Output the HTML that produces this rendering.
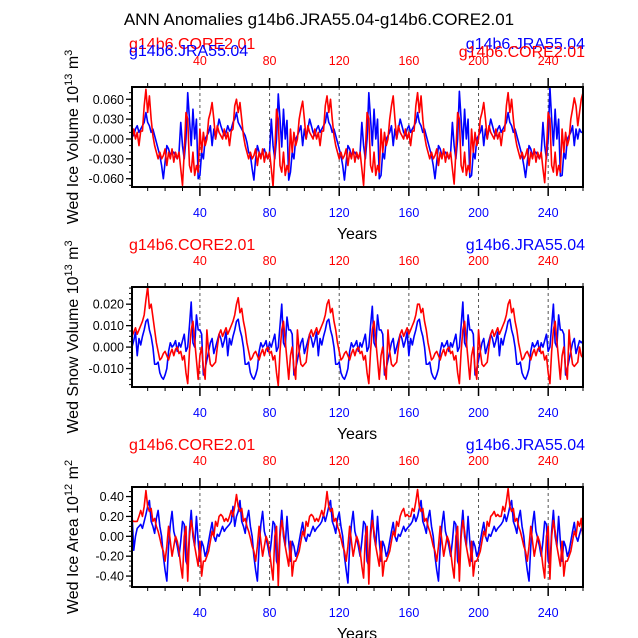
<!DOCTYPE html>
<html><head><meta charset="utf-8"><style>
body{margin:0;background:#fff;}
svg{display:block;font-family:"Liberation Sans",sans-serif;}
</style></head><body>
<svg id="c" width="638" height="638" viewBox="0 0 638 638">
<text x="319" y="25" text-anchor="middle" font-size="17">ANN Anomalies g14b6.JRA55.04-g14b6.CORE2.01</text>
</svg>
<script>
const years = [];
for (let i = 1; i <= 260; i++) years.push(i);
const iceVolJRA = [
0.01,0.005,0.015,0.02,0.01,0.015,0.02,0.025,0.04,0.025,0.02,0.01,0.015,0.005,-0.005,-0.015,-0.025,-0.04,-0.06,-0.035,-0.01,-0.015,-0.025,-0.02,-0.02,-0.025,-0.03,-0.02,0.025,-0.01,-0.03,0.0,0.07,0.03,-0.01,0.045,0.0,0.03,-0.06,-0.055,-0.02,-0.03,0.0,0.005,0.01,0.02,-0.01,0.015,0.0,0.015,0.03,0.02,
0.012,0.005,0.01,0.02,0.012,0.015,0.025,0.03,0.04,0.025,0.02,0.015,0.01,0.005,-0.005,-0.02,-0.025,-0.045,-0.062,-0.03,-0.01,-0.02,-0.025,-0.02,-0.015,-0.025,-0.03,-0.02,0.03,-0.01,-0.03,0.0,0.068,0.03,-0.012,0.045,0.0,0.028,-0.062,-0.05,-0.02,-0.03,0.0,0.005,0.012,0.02,-0.01,0.015,0.0,0.015,0.03,0.02,
0.01,0.005,0.015,0.02,0.01,0.015,0.02,0.025,0.04,0.025,0.02,0.01,0.015,0.005,-0.005,-0.015,-0.025,-0.04,-0.062,-0.035,-0.01,-0.015,-0.025,-0.02,-0.02,-0.025,-0.03,-0.02,0.025,-0.01,-0.03,0.0,0.07,0.03,-0.01,0.045,0.0,0.03,-0.06,-0.055,-0.02,-0.03,0.0,0.005,0.01,0.02,-0.01,0.015,0.0,0.015,0.03,0.02,
0.01,0.005,0.015,0.02,0.01,0.015,0.02,0.025,0.04,0.025,0.02,0.01,0.015,0.005,-0.005,-0.015,-0.025,-0.04,-0.06,-0.035,-0.01,-0.015,-0.025,-0.02,-0.02,-0.025,-0.03,-0.02,0.025,-0.01,-0.03,0.0,0.072,0.03,-0.01,0.045,0.0,0.03,-0.058,-0.055,-0.02,-0.03,0.0,0.005,0.01,0.02,-0.01,0.015,0.0,0.015,0.03,0.02,
0.01,0.005,0.015,0.02,0.01,0.015,0.02,0.025,0.04,0.025,0.02,0.01,0.015,0.005,-0.005,-0.015,-0.025,-0.04,-0.058,-0.035,-0.01,-0.015,-0.025,-0.02,-0.02,-0.025,-0.03,-0.02,0.025,-0.01,-0.03,0.0,0.078,0.03,-0.01,0.045,0.0,0.03,-0.056,-0.055,-0.02,-0.03,0.0,0.005,0.01,0.02,-0.01,0.015,0.0,0.015,0.01,0.01];
const iceVolCORE = [
0.0,0.015,0.0,0.01,-0.01,0.012,0.012,0.05,0.075,0.04,0.065,0.03,0.005,-0.01,-0.02,-0.03,-0.02,-0.03,-0.025,-0.015,-0.04,-0.02,-0.03,-0.015,-0.035,-0.02,-0.03,-0.02,-0.045,-0.07,-0.02,0.04,0.03,-0.04,-0.05,-0.02,-0.055,-0.04,-0.05,0.015,-0.02,0.01,-0.01,0.0,0.03,0.04,0.055,0.03,0.0,0.02,0.01,0.005,
0.0,0.015,0.0,0.01,-0.01,0.012,0.015,0.05,0.06,0.04,0.055,0.03,0.005,-0.01,-0.02,-0.03,-0.02,-0.03,-0.025,-0.015,-0.04,-0.02,-0.03,-0.015,-0.035,-0.02,-0.03,-0.02,-0.045,-0.072,-0.02,0.045,0.03,-0.04,-0.05,-0.02,-0.055,-0.04,-0.05,0.015,-0.02,0.01,-0.01,0.0,0.03,0.045,0.057,0.03,0.0,0.02,0.01,0.005,
0.0,0.015,0.0,0.01,-0.01,0.012,0.012,0.05,0.065,0.04,0.06,0.03,0.005,-0.01,-0.02,-0.03,-0.02,-0.03,-0.025,-0.015,-0.04,-0.02,-0.03,-0.015,-0.035,-0.02,-0.03,-0.02,-0.045,-0.07,-0.02,0.04,0.03,-0.04,-0.05,-0.02,-0.055,-0.04,-0.05,0.015,-0.02,0.01,-0.01,0.0,0.03,0.05,0.065,0.03,0.0,0.02,0.01,0.005,
0.0,0.015,0.0,0.01,-0.01,0.012,0.012,0.05,0.07,0.04,0.065,0.03,0.005,-0.01,-0.02,-0.03,-0.02,-0.03,-0.025,-0.015,-0.04,-0.02,-0.03,-0.015,-0.035,-0.02,-0.03,-0.02,-0.045,-0.068,-0.02,0.04,0.03,-0.04,-0.05,-0.02,-0.055,-0.04,-0.05,0.015,-0.02,0.01,-0.01,0.0,0.03,0.04,0.055,0.03,0.0,0.02,0.01,0.005,
0.0,0.015,0.0,0.01,-0.01,0.012,0.012,0.05,0.07,0.04,0.06,0.03,0.005,-0.01,-0.02,-0.03,-0.02,-0.03,-0.025,-0.015,-0.04,-0.02,-0.03,-0.015,-0.035,-0.02,-0.03,-0.02,-0.045,-0.066,-0.02,0.04,0.03,-0.04,-0.05,-0.02,-0.055,-0.04,-0.05,0.015,-0.02,0.01,-0.01,0.0,0.03,0.045,0.062,0.05,0.02,0.04,0.06,0.07];
const snowVolJRA = [
0.0,0.003,0.007,-0.004,0.004,0.001,0.005,0.008,0.012,0.013,0.008,0.005,0.0,-0.008,-0.008,-0.007,-0.012,-0.014,-0.015,-0.013,-0.01,-0.002,0.002,0.0,0.001,0.003,-0.002,0.002,0.0,0.003,0.006,-0.002,0.0,0.01,0.021,0.002,0.0,0.015,0.008,0.008,0.006,-0.013,-0.01,-0.006,-0.002,0.002,0.004,-0.003,0.0,0.003,0.006,0.004,
0.0,0.003,0.007,-0.004,0.004,0.001,0.005,0.008,0.012,0.013,0.008,0.005,0.0,-0.008,-0.008,-0.007,-0.012,-0.014,-0.015,-0.013,-0.01,-0.002,0.002,0.0,0.001,0.003,-0.002,0.002,0.0,0.003,0.006,-0.002,0.0,0.01,0.02,0.002,0.0,0.014,0.008,0.008,0.006,-0.013,-0.01,-0.006,-0.002,0.002,0.004,-0.003,0.0,0.003,0.006,0.004,
0.0,0.003,0.007,-0.004,0.004,0.001,0.005,0.008,0.012,0.013,0.008,0.005,0.0,-0.008,-0.008,-0.007,-0.012,-0.014,-0.015,-0.013,-0.01,-0.002,0.002,0.0,0.001,0.003,-0.002,0.002,0.0,0.003,0.006,-0.002,0.0,0.01,0.019,0.002,0.0,0.015,0.008,0.008,0.006,-0.013,-0.01,-0.006,-0.002,0.002,0.004,-0.003,0.0,0.003,0.006,0.004,
0.0,0.003,0.007,-0.004,0.004,0.001,0.005,0.008,0.012,0.013,0.008,0.005,0.0,-0.008,-0.008,-0.007,-0.012,-0.014,-0.015,-0.013,-0.01,-0.002,0.002,0.0,0.001,0.003,-0.002,0.002,0.0,0.003,0.006,-0.002,0.0,0.01,0.021,0.002,0.0,0.015,0.008,0.008,0.006,-0.013,-0.01,-0.006,-0.002,0.002,0.004,-0.003,0.0,0.003,0.006,0.004,
0.0,0.003,0.007,-0.004,0.004,0.001,0.005,0.008,0.012,0.013,0.008,0.005,0.0,-0.008,-0.008,-0.007,-0.012,-0.014,-0.015,-0.013,-0.01,-0.002,0.002,0.0,0.001,0.003,-0.002,0.002,0.0,0.003,0.006,-0.002,0.0,0.01,0.02,0.002,0.0,0.015,0.008,0.008,0.006,-0.013,-0.01,-0.006,-0.002,0.002,0.004,-0.003,0.0,0.003,0.002,0.003];
const snowVolCORE = [
0.005,0.007,0.009,0.006,0.008,0.01,0.012,0.015,0.022,0.028,0.018,0.02,0.014,0.008,0.002,-0.002,-0.006,-0.005,-0.003,-0.002,-0.004,-0.006,-0.003,-0.001,-0.004,-0.001,0.0,-0.003,-0.002,-0.006,-0.004,-0.012,-0.017,-0.002,0.008,0.012,0.003,-0.006,-0.015,-0.004,0.0,-0.01,-0.015,0.008,-0.002,-0.008,-0.009,-0.008,-0.007,0.0,0.006,0.008,
0.005,0.007,0.009,0.006,0.008,0.01,0.012,0.015,0.02,0.023,0.016,0.018,0.012,0.008,0.002,-0.002,-0.006,-0.005,-0.003,-0.002,-0.004,-0.006,-0.003,-0.001,-0.004,-0.001,0.0,-0.003,-0.002,-0.006,-0.004,-0.012,-0.018,-0.002,0.008,0.012,0.003,-0.006,-0.015,-0.004,0.0,-0.01,-0.015,0.008,-0.002,-0.008,-0.009,-0.008,-0.007,0.0,0.006,0.008,
0.005,0.007,0.009,0.006,0.008,0.01,0.012,0.015,0.02,0.022,0.016,0.018,0.012,0.008,0.002,-0.002,-0.006,-0.005,-0.003,-0.002,-0.004,-0.006,-0.003,-0.001,-0.004,-0.001,0.0,-0.003,-0.002,-0.006,-0.004,-0.012,-0.017,-0.002,0.008,0.012,0.003,-0.006,-0.015,-0.004,0.0,-0.01,-0.015,0.008,-0.002,-0.008,-0.009,-0.008,-0.007,0.0,0.006,0.008,
0.005,0.007,0.009,0.006,0.008,0.01,0.012,0.015,0.02,0.02,0.016,0.018,0.012,0.008,0.002,-0.002,-0.006,-0.005,-0.003,-0.002,-0.004,-0.006,-0.003,-0.001,-0.004,-0.001,0.0,-0.003,-0.002,-0.006,-0.004,-0.012,-0.017,-0.002,0.008,0.012,0.003,-0.006,-0.015,-0.004,0.0,-0.01,-0.015,0.008,-0.002,-0.008,-0.009,-0.008,-0.007,0.0,0.006,0.008,
0.005,0.007,0.009,0.006,0.008,0.01,0.012,0.015,0.02,0.022,0.016,0.018,0.012,0.008,0.002,-0.002,-0.006,-0.005,-0.003,-0.002,-0.004,-0.006,-0.003,-0.001,-0.004,-0.001,0.0,-0.003,-0.002,-0.006,-0.004,-0.012,-0.017,-0.002,0.008,0.012,0.003,-0.006,-0.015,-0.004,0.0,-0.01,-0.015,0.008,-0.002,-0.008,-0.009,-0.008,-0.007,0.0,-0.004,-0.005];
const iceAreaJRA = [
0.23,-0.14,0.0,0.08,0.1,0.12,0.08,0.15,0.22,0.3,0.36,0.15,0.1,0.03,0.18,0.26,0.1,0.0,-0.2,-0.34,-0.45,-0.1,0.12,0.25,0.05,-0.02,-0.1,-0.2,-0.05,0.15,0.12,-0.25,-0.3,0.05,0.26,0.0,-0.1,0.2,-0.05,-0.25,-0.05,-0.1,-0.2,-0.15,-0.05,0.05,0.14,0.0,-0.05,0.02,0.0,0.05,
0.1,0.05,0.08,0.1,0.12,0.15,0.3,0.1,0.2,0.25,0.36,0.15,0.1,0.03,0.18,0.26,0.1,0.0,-0.2,-0.34,-0.45,-0.1,0.12,0.25,0.05,-0.02,-0.1,-0.2,-0.05,0.15,0.12,-0.25,-0.3,0.05,0.26,0.0,-0.1,0.2,-0.05,-0.25,-0.05,-0.1,-0.2,-0.15,-0.05,0.05,0.14,0.0,-0.05,0.02,0.0,0.05,
0.1,0.05,0.08,0.1,0.12,0.15,0.22,0.15,0.22,0.3,0.36,0.15,0.1,0.03,0.18,0.24,0.1,0.0,-0.2,-0.34,-0.47,-0.1,0.12,0.25,0.05,-0.02,-0.1,-0.2,-0.05,0.15,0.12,-0.25,-0.3,0.05,0.26,0.0,-0.1,0.2,-0.05,-0.25,-0.05,-0.1,-0.2,-0.15,-0.05,0.05,0.14,0.0,-0.05,0.02,0.0,0.05,
0.1,0.05,0.08,0.1,0.12,0.15,0.22,0.15,0.2,0.28,0.36,0.15,0.1,0.03,0.18,0.26,0.1,0.0,-0.2,-0.34,-0.45,-0.1,0.12,0.25,0.05,-0.02,-0.1,-0.2,-0.05,0.15,0.12,-0.25,-0.3,0.05,0.26,0.0,-0.1,0.2,-0.05,-0.25,-0.05,-0.1,-0.2,-0.15,-0.05,0.05,0.14,0.0,-0.05,0.02,0.0,0.05,
0.1,0.05,0.08,0.1,0.12,0.15,0.22,0.15,0.22,0.3,0.36,0.15,0.1,0.03,0.18,0.26,0.1,0.0,-0.2,-0.34,-0.45,-0.1,0.12,0.25,0.05,-0.02,-0.1,-0.2,-0.05,0.15,0.12,-0.25,-0.3,0.05,0.26,0.0,-0.1,0.2,-0.05,-0.25,-0.05,-0.1,-0.2,-0.15,-0.05,0.05,0.14,0.0,-0.05,0.02,0.08,0.05];
const iceAreaCORE = [
0.16,0.15,0.15,0.15,0.2,0.26,0.2,0.3,0.46,0.3,0.25,0.28,0.15,0.18,0.1,0.05,-0.02,-0.1,-0.15,-0.25,-0.1,0.1,-0.05,-0.2,-0.1,0.0,-0.05,-0.15,-0.3,-0.42,0.0,0.1,-0.45,0.0,0.16,0.05,-0.1,-0.2,-0.3,-0.05,-0.4,-0.25,-0.25,-0.2,-0.15,-0.05,0.05,0.0,0.15,0.1,0.2,0.22,
0.2,0.15,0.18,0.15,0.2,0.26,0.2,0.3,0.42,0.3,0.25,0.28,0.15,0.18,0.1,0.05,-0.02,-0.1,-0.15,-0.25,-0.1,0.1,-0.05,-0.2,-0.1,0.0,-0.05,-0.15,-0.3,-0.44,0.0,0.1,-0.5,0.0,0.16,0.05,-0.1,-0.2,-0.3,-0.05,-0.4,-0.25,-0.25,-0.2,-0.15,-0.05,0.05,0.0,0.15,0.1,0.2,0.22,
0.2,0.15,0.18,0.15,0.2,0.26,0.2,0.3,0.45,0.3,0.25,0.28,0.15,0.18,0.1,0.05,-0.02,-0.1,-0.15,-0.25,-0.1,0.1,-0.05,-0.2,-0.1,0.0,-0.05,-0.15,-0.3,-0.42,0.0,0.1,-0.48,0.0,0.16,0.05,-0.1,-0.2,-0.3,-0.05,-0.4,-0.25,-0.25,-0.2,-0.15,-0.05,0.05,0.0,0.15,0.1,0.2,0.25,
0.28,0.2,0.22,0.2,0.2,0.28,0.25,0.35,0.47,0.3,0.25,0.28,0.15,0.18,0.1,0.05,-0.02,-0.1,-0.15,-0.25,-0.1,0.1,-0.05,-0.2,-0.1,0.0,-0.05,-0.15,-0.3,-0.42,0.0,0.1,-0.45,0.0,0.16,0.05,-0.1,-0.2,-0.3,-0.05,-0.4,-0.25,-0.25,-0.2,-0.15,-0.05,0.05,0.0,0.15,0.1,0.2,0.22,
0.25,0.2,0.22,0.2,0.2,0.3,0.25,0.35,0.48,0.3,0.25,0.28,0.15,0.18,0.1,0.05,-0.02,-0.1,-0.15,-0.25,-0.1,0.1,-0.05,-0.2,-0.1,0.0,-0.05,-0.15,-0.3,-0.42,0.0,0.1,-0.43,0.0,0.16,0.05,-0.1,-0.2,-0.3,-0.05,-0.4,-0.25,-0.25,-0.2,-0.15,-0.05,0.05,0.0,0.15,0.1,0.18,-0.02];
const xTicks = [40, 80, 120, 160, 200, 240];
const iceVolTicks = [0.06, 0.03, 0, -0.03, -0.06];
const iceVolTickLabels = ["0.060", "0.030", "-0.000", "-0.030", "-0.060"];
const snowTicks = [0.02, 0.01, 0, -0.01];
const snowTickLabels = ["0.020", "0.010", "0.000", "-0.010"];
const areaTicks = [0.4, 0.2, 0, -0.2, -0.4];
const areaTickLabels = ["0.40", "0.20", "0.00", "-0.20", "-0.40"];

const NS = "http://www.w3.org/2000/svg";
const svg = document.getElementById("c");
function mk(tag, attrs, parent) {
  const e = document.createElementNS(NS, tag);
  for (const k in attrs) e.setAttribute(k, attrs[k]);
  (parent || svg).appendChild(e);
  return e;
}
const X0 = 132, X1 = 583;
function xs(t) { return X0 + (t - 1) * (X1 - X0) / 259; }

const panels = [
  {name:"ice-volume", top:87, ymin:-0.0725, ymax:0.0785, ticks:iceVolTicks, labels:iceVolTickLabels, minor:0.01, jra:iceVolJRA, core:iceVolCORE, title:"Wed Ice Volume 10", sup:"13", unit:" m", sup2:"3", overlapLegend:true},
  {name:"snow-volume", top:287, ymin:-0.0186, ymax:0.028, ticks:snowTicks, labels:snowTickLabels, minor:0.0025, jra:snowVolJRA, core:snowVolCORE, title:"Wed Snow Volume 10", sup:"13", unit:" m", sup2:"3"},
  {name:"ice-area", top:487, ymin:-0.51, ymax:0.496, ticks:areaTicks, labels:areaTickLabels, minor:0.05, jra:iceAreaJRA, core:iceAreaCORE, title:"Wed Ice Area 10", sup:"12", unit:" m", sup2:"2"}
];

panels.forEach(p => {
  const H = 100, top = p.top, bot = top + H;
  const ys = v => bot - (v - p.ymin) / (p.ymax - p.ymin) * H;
  const g = mk("g", {});
  
  
  // dashed grid
  xTicks.forEach(t => {
    const l = mk("line", {x1:xs(t), x2:xs(t), y1:top, y2:bot, stroke:"#555", "stroke-width":1, "stroke-dasharray":"3,3"}, g);
    
    
  });
  // x ticks top & bottom
  for (let t = 10; t <= 260; t += 10) {
    const major = t % 40 === 0;
    const len = major ? 9 : 4;
    mk("line", {x1:xs(t), x2:xs(t), y1:top, y2:top - len, stroke:"#000", "stroke-width":major?1.5:1}, g);
    mk("line", {x1:xs(t), x2:xs(t), y1:bot, y2:bot + len, stroke:"#000", "stroke-width":major?1.5:1}, g);
  }
  // y ticks
  for (let v = Math.ceil(p.ymin / p.minor) * p.minor; v <= p.ymax; v += p.minor) {
    mk("line", {x1:X0, x2:X0 - 3, y1:ys(v), y2:ys(v), stroke:"#000", "stroke-width":1}, g);
  }
  p.ticks.forEach((v, i) => {
    mk("line", {x1:X0, x2:X0 - 6, y1:ys(v), y2:ys(v), stroke:"#000", "stroke-width":1.3}, g);
    const tx = mk("text", {x:X0 - 8, y:ys(v) + 4.5, "text-anchor":"end", "font-size":12.5}, g);
    tx.textContent = p.labels[i];
    
    
  });
  // top red and bottom blue tick labels
  xTicks.forEach(t => {
    const a = mk("text", {x:xs(t), y:top - 22, "text-anchor":"middle", "font-size":12.5, fill:"#f00"}, g);
    a.textContent = t;
    
    
    const b = mk("text", {x:xs(t), y:bot + 30, "text-anchor":"middle", "font-size":12.5, fill:"#00f"}, g);
    b.textContent = t;
    
    
  });
  // series
  const line = (data, color, nm) => {
    let d = "";
    years.forEach((t, i) => { d += (i ? "L" : "M") + xs(t).toFixed(2) + "," + ys(data[i]).toFixed(2); });
    const pth = mk("path", {d:d, fill:"none", stroke:color, "stroke-width":1.6, "stroke-linejoin":"round"}, g);
    
    
  };
  const cp = mk("clipPath", {id:"clip-" + p.name}, g);
  mk("rect", {x:X0, y:top, width:X1 - X0, height:H}, cp);
  const sg = mk("g", {"clip-path":"url(#clip-" + p.name + ")"}, g);
  const gsave = g;
  ((gg) => {
    const ln = (data, color, nm) => {
      let d = "";
      years.forEach((t, i) => { d += (i ? "L" : "M") + xs(t).toFixed(2) + "," + ys(data[i]).toFixed(2); });
      const pth = mk("path", {d:d, fill:"none", stroke:color, "stroke-width":1.6, "stroke-linejoin":"round"}, gg);
      
      
    };
    ln(p.jra, "#00f", "jra55-series-line");
    ln(p.core, "#f00", "core2-series-line");
  })(sg);
  // frame
  const fr = mk("rect", {x:X0, y:top, width:X1 - X0, height:H, fill:"none", stroke:"#000", "stroke-width":2}, g);
  
  
  // x axis title
  const xt = mk("text", {x:357, y:bot + 52, "text-anchor":"middle", "font-size":16}, g);
  xt.textContent = "Years";
  
  
  // y axis title
  const yt = mk("text", {x:0, y:0, "text-anchor":"middle", "font-size":16, transform:"translate(78," + (top + H / 2) + ") rotate(-90)"}, g);
  
  
  const s1 = mk("tspan", {}, yt); s1.textContent = p.title;
  const s2 = mk("tspan", {dy:-6, "font-size":11}, yt); s2.textContent = p.sup;
  const s3 = mk("tspan", {dy:6}, yt); s3.textContent = p.unit;
  const s4 = mk("tspan", {dy:-6, "font-size":11}, yt); s4.textContent = p.sup2;
  // legends
  const lg = (x, y, anchor, color, txt, nm) => {
    const e = mk("text", {x:x, y:y, "text-anchor":anchor, "font-size":16, fill:color}, g);
    e.textContent = txt;
    
    
  };
  if (p.overlapLegend) {
    lg(129, top - 38, "start", "#f00", "g14b6.CORE2.01", "legend-core2-left");
    lg(129, top - 31, "start", "#00f", "g14b6.JRA55.04", "legend-jra55-left");
    lg(585, top - 38, "end", "#00f", "g14b6.JRA55.04", "legend-jra55-right");
    lg(585, top - 30, "end", "#f00", "g14b6.CORE2.01", "legend-core2-right");
  } else {
    lg(129, top - 37, "start", "#f00", "g14b6.CORE2.01", "legend-core2");
    lg(585, top - 37, "end", "#00f", "g14b6.JRA55.04", "legend-jra55");
  }
});
</script>
</body></html>
